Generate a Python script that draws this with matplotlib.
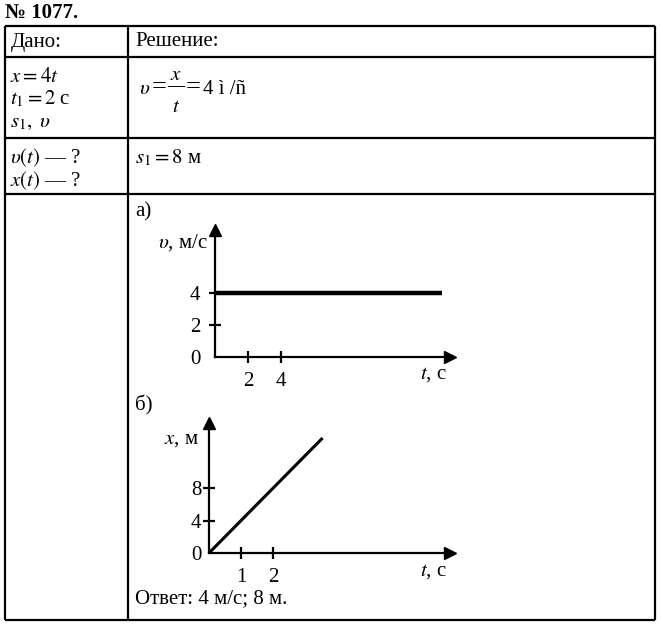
import matplotlib
matplotlib.use("Agg")
import matplotlib.pyplot as plt

plt.rcParams['font.family'] = ['Liberation Serif', 'DejaVu Serif']
plt.rcParams['mathtext.fontset'] = 'stix'

# ---- data ----
# graph a) v(t)
v_t = [0, 13.75]
v_vals = [4, 4]
v_yticks = [0, 2, 4]
v_xticks = [2, 4]
# graph b) x(t)
x_t = [0, 3.55]
x_vals = [0, 14.2]
x_yticks = [0, 4, 8]
x_xticks = [1, 2]

W, H = 661, 628
fig = plt.figure(figsize=(W / 100, H / 100), dpi=100)
bg = fig.add_axes([0, 0, 1, 1])
bg.set_xlim(0, W)
bg.set_ylim(H, 0)
bg.axis('off')

FS = 15
LW = 1.6

# table lines
L, R, C = 5, 655, 128
rows = [26, 57, 138, 194, 620]
for y in rows:
    bg.plot([L, R], [y, y], color='k', lw=LW, solid_capstyle='butt')
for x in (L, C, R):
    bg.plot([x, x], [rows[0], rows[-1]], color='k', lw=LW, solid_capstyle='butt')

def txt(x, y, s, **kw):
    kw.setdefault('fontsize', FS)
    bg.text(x, y, s, ha=kw.pop('ha', 'left'), va=kw.pop('va', 'center'), **kw)

txt(5, 13, '№ 1077.', fontweight='bold')
txt(11, 42, 'Дано:')
txt(135, 42, 'Решение:')
txt(10, 77, r'$x = 4t$')
txt(10, 99, r'$t_1 = 2$ с')
txt(10, 122, r'$s_1,\ \upsilon$')
# v = x/t = 4 ì /ñ  (fraction written as stacked x over t)
txt(139, 90, r'$\upsilon$')
txt(159, 87, '=', ha='center', fontsize=19)
txt(176, 75, r'$x$', ha='center')
txt(176, 107, r'$t$', ha='center')
bg.plot([168, 184], [86, 86], color='k', lw=0.7)
txt(193, 87, '=', ha='center', fontsize=19)
txt(203, 90, '4 ì /ñ')
txt(10, 158, r'$\upsilon(t)$ — ?')
txt(10, 181, r'$x(t)$ — ?')
txt(135, 158, r'$s_1 = 8$ м')
txt(135, 212, 'а)')
txt(135, 405, 'б)')
txt(135, 599, 'Ответ: 4 м/с; 8 м.')


def px_axes(left, top, right, bottom):
    return fig.add_axes([left / W, 1 - bottom / H, (right - left) / W, (bottom - top) / H])


def style(ax, xticks, yticks, ylabel, xlabel, ypad, ylab_pos):
    for s in ('top', 'right'):
        ax.spines[s].set_visible(False)
    for s in ('left', 'bottom'):
        ax.spines[s].set_linewidth(LW)
    ax.patch.set_visible(False)
    ax.set_xticks(xticks)
    ax.set_yticks(yticks)
    ax.tick_params(direction='inout', length=9, width=LW, labelsize=FS)
    ax.tick_params(axis='x', pad=6)
    ax.tick_params(axis='y', pad=ypad)
    ax.yaxis.get_major_ticks()[0].tick1line.set_visible(False)
    ax.plot(1, 0, '>k', transform=ax.transAxes, clip_on=False, markersize=9)
    ax.plot(0, 1, '^k', transform=ax.transAxes, clip_on=False, markersize=9)
    ax.text(ylab_pos[0], ylab_pos[1], ylabel, transform=ax.transAxes,
            ha='right', va='center', fontsize=FS)
    ax.text(0.985, -0.14, xlabel, transform=ax.transAxes, ha='right', va='center', fontsize=FS)


# graph a: origin at (215,357), 16.5 px per s, 16 px per m/s
axa = px_axes(215, 230, 450, 357)
axa.set_xlim(0, (450 - 215) / 16.5)
axa.set_ylim(0, (357 - 230) / 16.0)
axa.plot(v_t, v_vals, color='k', lw=3.2, solid_capstyle='butt')
style(axa, v_xticks, v_yticks, r'$\upsilon$, м/с', r'$t$, с', 6, (-0.03, 0.9))

# graph b: origin at (209,553), 32 px per s, 8.1 px per m
axb = px_axes(209, 423, 450, 553)
axb.set_xlim(0, (450 - 209) / 32.0)
axb.set_ylim(0, (553 - 423) / 8.1)
axb.plot(x_t, x_vals, color='k', lw=2.2, solid_capstyle='butt')
style(axb, x_xticks, x_yticks, r'$x$, м', r'$t$, с', 1, (-0.04, 0.87))

fig.savefig('out.png', dpi=100)
